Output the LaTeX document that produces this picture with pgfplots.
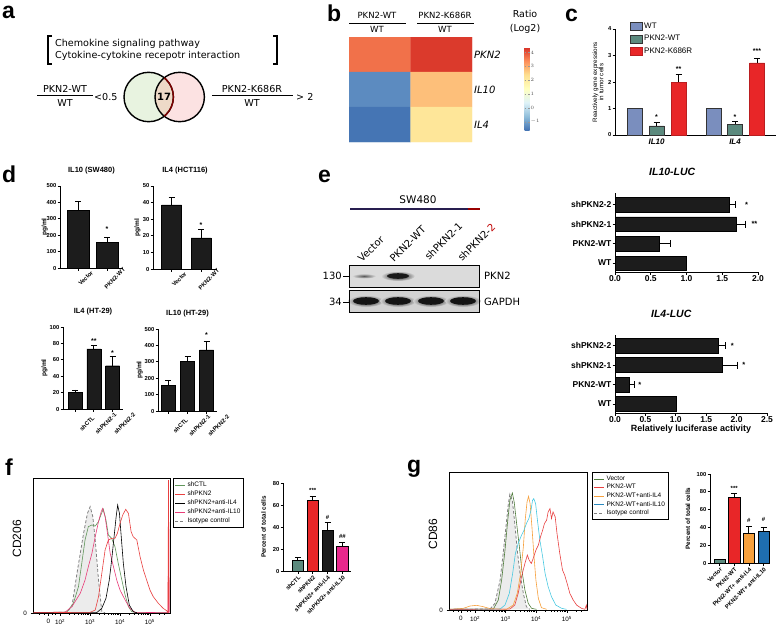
\documentclass[border=0pt]{standalone}
\usepackage{pgfplots}
\pgfplotsset{compat=1.18}
\usepackage{fontspec}
\setmainfont{Liberation Sans}
\newfontfamily\dv{DejaVu Sans}

\definecolor{cwt}{RGB}{122,142,190}
\definecolor{cteal}{RGB}{92,138,126}
\definecolor{cred}{RGB}{232,38,40}
\definecolor{bbar}{RGB}{28,28,28}
\definecolor{cpink}{RGB}{232,40,140}
\definecolor{corange}{RGB}{246,160,60}
\definecolor{cblue}{RGB}{30,110,176}
\definecolor{hgreen}{RGB}{96,150,90}
\definecolor{hred}{RGB}{232,64,64}
\definecolor{hpink}{RGB}{232,60,120}
\definecolor{hdgreen}{RGB}{80,125,60}
\definecolor{hor}{RGB}{246,160,60}
\definecolor{hcyan}{RGB}{70,200,225}
\definecolor{navy}{RGB}{40,30,80}
\definecolor{vgreen}{RGB}{232,243,224}
\definecolor{vred}{RGB}{252,226,226}
\definecolor{vmix}{RGB}{238,218,200}

\newcommand{\fs}[1]{\fontsize{#1}{#1}\selectfont}

\pgfplotsset{
  prism/.style={
    scale only axis, clip=false,
    axis x line*=bottom, axis y line*=left,
    axis line style={line width=0.8pt},
    tick align=outside, major tick length=2.5pt,
    tick style={line width=0.7pt, black},
    ticklabel style={font=\bfseries\fs{5.8}, inner sep=1pt},
    /pgf/number format/assume math mode=true,
    ymin=0,
  },
  dlab/.style={xticklabel style={rotate=45, anchor=center, yshift=#1}},
  ebary/.style={error bars/.cd, y dir=plus, y explicit,
     error bar style={line width=0.8pt, black},
     error mark options={rotate=90, line width=0.8pt, mark size=3pt, black}},
  ebarx/.style={error bars/.cd, x dir=plus, x explicit,
     error bar style={line width=0.8pt, black},
     error mark options={rotate=90, line width=0.8pt, mark size=3.5pt, black}},
  hist/.style={
    scale only axis, clip=true,
    axis line style={line width=0.9pt},
    ymin=0, ymax=100, ytick={0}, yticklabels={0},
    ytick pos=left, xtick pos=bottom,
    tick align=outside, major tick length=2.5pt, minor tick length=1.5pt,
    tick style={line width=0.5pt, black},
    ticklabel style={font=\fs{6.3}},
    xtick={1.6,2,3,4,5},
    xticklabels={0,10\textsuperscript{2},10\textsuperscript{3},10\textsuperscript{4},10\textsuperscript{5}},
    minor xtick={1.3,1.45,1.75,1.85,2.3,2.48,2.6,2.7,2.78,2.85,2.9,2.95,3.3,3.48,3.6,3.7,3.78,3.85,3.9,3.95,4.3,4.48,4.6,4.7,4.78,4.85,4.9,4.95,5.3,5.48},
    legend cell align=left,
    legend image code/.code={\draw[#1] (0pt,0pt) -- (10pt,0pt);},
  },
}

\begin{document}
\begin{tikzpicture}
\path[use as bounding box] (0,0) rectangle (778pt,-634pt);

% ---------- panel letters ----------
\foreach \l/\x/\y in {a/2/19, b/327/22, c/565/22, d/2/182, e/318/182, f/5/475, g/407/472}{
  \node[anchor=base west, inner sep=0, font=\bfseries\fs{23}] at (\x pt,-\y pt) {\l};
}

% ---------- panel a ----------
\draw[line width=1.6pt] (52pt,-36pt) -- (48pt,-36pt) -- (48pt,-64pt) -- (52pt,-64pt);
\draw[line width=1.6pt] (273pt,-36pt) -- (277pt,-36pt) -- (277pt,-64pt) -- (273pt,-64pt);
\node[anchor=base west, inner sep=0, font=\dv\fs{9.6}] at (55pt,-46pt) {Chemokine signaling pathway};
\node[anchor=base west, inner sep=0, font=\dv\fs{9.6}] at (55pt,-59pt) {Cytokine-cytokine recepotr interaction};
\fill[vgreen] (148.7pt,-97pt) circle (24.7pt);
\fill[vred] (179.7pt,-97pt) circle (24.7pt);
\begin{scope}
  \clip (148.7pt,-97pt) circle (24.7pt);
  \fill[vmix] (179.7pt,-97pt) circle (24.7pt);
\end{scope}
\draw[line width=1.4pt] (148.7pt,-97pt) circle (24.7pt);
\draw[line width=1.4pt] (179.7pt,-97pt) circle (24.7pt);
\begin{scope}
  \clip (179.7pt,-97pt) circle (24.7pt);
  \draw[line width=1.4pt, red!50!black] (148.7pt,-97pt) circle (24.7pt);
\end{scope}
\node[font=\dv\bfseries\fs{10}] at (164.2pt,-97pt) {17};
\node[anchor=base, inner sep=0, font=\dv\fs{9.6}] at (65pt,-92pt) {PKN2-WT};
\draw[line width=0.7pt] (37pt,-95pt) -- (93pt,-95pt);
\node[anchor=base, inner sep=0, font=\dv\fs{9.6}] at (65pt,-106pt) {WT};
\node[anchor=base west, inner sep=0, font=\dv\fs{9.6}] at (94pt,-100pt) {<0.5};
\node[anchor=base, inner sep=0, font=\dv\fs{9.6}] at (252pt,-92pt) {PKN2-K686R};
\draw[line width=0.7pt] (212pt,-95pt) -- (293pt,-95pt);
\node[anchor=base, inner sep=0, font=\dv\fs{9.6}] at (252pt,-106pt) {WT};
\node[anchor=base west, inner sep=0, font=\dv\fs{9.6}] at (296pt,-100pt) {> 2};

% ---------- panel b ----------
\node[anchor=base, inner sep=0, font=\dv\fs{8.5}] at (377pt,-19pt) {PKN2-WT};
\draw[line width=0.7pt] (349pt,-23pt) -- (406pt,-23pt);
\node[anchor=base, inner sep=0, font=\dv\fs{8.5}] at (377pt,-33pt) {WT};
\node[anchor=base, inner sep=0, font=\dv\fs{8.5}] at (445pt,-19pt) {PKN2-K686R};
\draw[line width=0.7pt] (417pt,-23pt) -- (474pt,-23pt);
\node[anchor=base, inner sep=0, font=\dv\fs{8.5}] at (445pt,-33pt) {WT};
\node[anchor=base, inner sep=0, font=\dv\fs{9.5}] at (525pt,-18pt) {Ratio};
\node[anchor=base, inner sep=0, font=\dv\fs{9.5}] at (525pt,-32pt) {(Log2)};

\begin{axis}[at={(349pt,-142pt)}, anchor=south west, scale only axis,
  width=123pt, height=105pt,
  xmin=-0.5, xmax=1.5, ymin=-0.5, ymax=2.5, y dir=reverse,
  axis line style={draw=none}, xtick=\empty,
  ytick={0,1,2}, yticklabels={PKN2,IL10,IL4}, yticklabel pos=right,
  major tick length=0pt,
  yticklabel style={font=\dv\itshape\fs{10}, anchor=west, inner sep=2pt},
  colormap={rdylbu}{rgb255(0)=(69,117,180); rgb255(1)=(145,191,219); rgb255(2)=(224,243,248); rgb255(3)=(255,255,191); rgb255(4)=(254,224,144); rgb255(5)=(252,141,89); rgb255(6)=(215,48,39)},
  point meta min=-1.6, point meta max=4.4,
  colorbar,
  colorbar style={at={(parent axis.north east)}, anchor=north west,
    xshift=44pt, yshift=-10pt, scale only axis, width=5pt, height=83pt,
    ytick={-1,0,1,2,3,4}, yticklabel pos=right,
    yticklabel style={font=\fs{5}, text=black!70, inner sep=1pt},
    major tick length=1.5pt, tick style={black!40},
    axis line style={draw=none}},
]
\addplot[matrix plot*, mesh/cols=2, point meta=explicit] table[meta=c] {
x y c
0 0 3.7
1 0 4.3
0 1 -1.3
1 1 2.8
0 2 -1.6
1 2 2.2
};
\end{axis}

% ---------- panel c ----------
\begin{axis}[prism, at={(615pt,-135pt)}, anchor=south west,
  width=161pt, height=106pt,
  ymax=4, ytick={0,1,2,3,4},
  xmin=-0.529, xmax=1.522, xtick={0,1},
  xticklabels={IL10,IL4},
  xticklabel style={font=\bfseries\itshape\fs{8}},
  major x tick style={draw=none},
  ylabel={Reactively gene expressions\\in tumor cells},
  ylabel style={font=\fs{6.3}, align=center, at={(axis description cs:-0.05,0.5)}, anchor=south},
  ybar, bar width=15pt,
  legend style={at={(axis description cs:0.09,1.08)}, anchor=north west, draw=none, fill=none,
     font=\fs{8}, row sep=1.5pt, inner sep=0pt},
  legend cell align=left,
  legend image code/.code={\draw[#1] (0pt,-4pt) rectangle (12pt,4pt);},
]
\addplot[fill=cwt, draw=black!80, line width=0.5pt, bar shift=-21.5pt]
  coordinates {(0,1) (1,1)};
\addplot[fill=cteal, draw=black!80, line width=0.5pt, bar shift=0pt, ebary]
  coordinates {(0,0.34) +- (0,0.12) (1,0.41) +- (0,0.09)};
\addplot[fill=cred, draw=cred!80!black, line width=0.5pt, bar shift=22pt, ebary]
  coordinates {(0,2.0) +- (0,0.3) (1,2.72) +- (0,0.18)};
\legend{WT,PKN2-WT,PKN2-K686R}
\node[font=\bfseries\fs{7}] at (axis cs:0,0.66) {*};
\node[font=\bfseries\fs{7}] at (axis cs:1,0.68) {*};
\node[font=\bfseries\fs{7}, xshift=22pt] at (axis cs:0,2.5) {**};
\node[font=\bfseries\fs{7}, xshift=22pt] at (axis cs:1,3.17) {***};
\end{axis}

% ---------- panel d ----------
\begin{axis}[prism, dlab=-11pt, at={(60pt,-268pt)}, anchor=south west, width=63pt, height=82pt,
  ymax=500, ytick={0,100,...,500}, xmin=-0.62, xmax=1.55, xtick={0,1},
  xticklabels={Vector,PKN2-WT},
  ylabel={pg/ml}, ylabel style={font=\bfseries\fs{6.5}, at={(axis description cs:-0.14,0.5)}, anchor=south},
  title={IL10 (SW480)}, title style={font=\bfseries\fs{7.5}, yshift=2pt},
  ybar, bar width=22pt]
\addplot[fill=bbar, draw=black, ebary] coordinates {(0,352) +- (0,54) (1,158) +- (0,27)};
\node[font=\bfseries\fs{7}] at (axis cs:1,236) {*};
\end{axis}

\begin{axis}[prism, dlab=-11pt, at={(153pt,-269pt)}, anchor=south west, width=64pt, height=83pt,
  ymax=50, ytick={0,10,...,50}, xmin=-0.63, xmax=1.54, xtick={0,1},
  xticklabels={Vector,PKN2-WT},
  ylabel={pg/ml}, ylabel style={font=\bfseries\fs{6.5}, at={(axis description cs:-0.14,0.5)}, anchor=south},
  title={IL4 (HCT116)}, title style={font=\bfseries\fs{7.5}, yshift=2pt},
  ybar, bar width=20pt]
\addplot[fill=bbar, draw=black, ebary] coordinates {(0,38.6) +- (0,4.4) (1,18.8) +- (0,5.2)};
\node[font=\bfseries\fs{7}] at (axis cs:1,26.5) {*};
\end{axis}

\begin{axis}[prism, dlab=-17pt, at={(63pt,-409pt)}, anchor=south west, width=60pt, height=82pt,
  ymax=100, ytick={0,20,...,100}, xmin=-0.64, xmax=2.56, xtick={0,1,2},
  xticklabels={shCTL,shPKN2-1,shPKN2-2},
  ylabel={pg/ml}, ylabel style={font=\bfseries\fs{6.5}, at={(axis description cs:-0.2,0.5)}, anchor=south},
  title={IL4 (HT-29)}, title style={font=\bfseries\fs{7.5}, yshift=2pt},
  ybar, bar width=14pt]
\addplot[fill=bbar, draw=black, ebary] coordinates {(0,20.2) +- (0,3) (1,73.4) +- (0,3.6) (2,52.8) +- (0,11)};
\node[font=\bfseries\fs{7}] at (axis cs:1,82.5) {**};
\node[font=\bfseries\fs{7}] at (axis cs:2,68) {*};
\end{axis}

\begin{axis}[prism, dlab=-17pt, at={(158pt,-411pt)}, anchor=south west, width=59pt, height=82pt,
  ymax=500, ytick={0,100,...,500}, xmin=-0.55, xmax=2.55, xtick={0,1,2},
  xticklabels={shCTL,shPKN2-1,shPKN2-2},
  ylabel={pg/ml}, ylabel style={font=\bfseries\fs{6.5}, at={(axis description cs:-0.2,0.5)}, anchor=south},
  title={IL10 (HT-29)}, title style={font=\bfseries\fs{7.5}, yshift=2pt},
  ybar, bar width=14pt]
\addplot[fill=bbar, draw=black, ebary] coordinates {(0,158) +- (0,26) (1,301) +- (0,31) (2,373) +- (0,51)};
\node[font=\bfseries\fs{7}] at (axis cs:2,462) {*};
\end{axis}

% ---------- panel e : blot ----------
\node[anchor=base, inner sep=0, font=\dv\fs{10.5}] at (418pt,-203pt) {SW480};
\draw[line width=1.2pt, navy] (350pt,-209pt) -- (468pt,-209pt);
\draw[line width=1.2pt, red!60!black] (468pt,-209pt) -- (480pt,-209pt);
\node[rotate=45, anchor=base west, inner sep=0, font=\dv\fs{10}] at (362pt,-263pt) {Vector};
\node[rotate=45, anchor=base west, inner sep=0, font=\dv\fs{10}] at (394pt,-263pt) {PKN2-WT};
\node[rotate=45, anchor=base west, inner sep=0, font=\dv\fs{10}] at (429pt,-261pt) {shPKN2-1};
\node[rotate=45, anchor=base west, inner sep=0, font=\dv\fs{10}] at (462pt,-262pt) {shPKN2-\textcolor{red!75!black}{2}};
\fill[gray!28] (349pt,-265pt) rectangle (479pt,-287pt);
\shade[inner color=black!65, outer color=gray!28] (364pt,-276pt) ellipse (12pt and 2.5pt);
\shade[inner color=black, outer color=gray!28] (398pt,-276pt) ellipse (17pt and 5pt);
\fill[black!90] (398pt,-276pt) ellipse (11pt and 2.8pt);
\draw[line width=0.8pt] (349pt,-265pt) rectangle (479pt,-287pt);
\fill[gray!35] (349pt,-290pt) rectangle (479pt,-312pt);
\foreach \bx in {366,398,431,463}{
  \shade[inner color=black, outer color=gray!35] (\bx pt,-301pt) ellipse (18pt and 6pt);
  \fill[black!92] (\bx pt,-301pt) ellipse (13pt and 3.8pt);
}
\draw[line width=0.8pt] (349pt,-290pt) rectangle (479pt,-312pt);
\node[anchor=east, inner sep=0, font=\dv\fs{10}] at (342pt,-276pt) {130};
\draw[line width=0.8pt] (343pt,-276pt) -- (349pt,-276pt);
\node[anchor=east, inner sep=0, font=\dv\fs{10}] at (342pt,-302pt) {34};
\draw[line width=0.8pt] (343pt,-302pt) -- (349pt,-302pt);
\node[anchor=west, inner sep=0, font=\dv\fs{10}] at (484pt,-276pt) {PKN2};
\node[anchor=west, inner sep=0, font=\dv\fs{10}] at (484pt,-302pt) {GAPDH};

% ---------- panel e : luciferase ----------
\begin{axis}[prism, at={(615pt,-272pt)}, anchor=south west, width=143pt, height=79pt,
  xbar, bar width=14.5pt, xmin=0, xmax=2.0, ymin=-0.46, ymax=3.59,
  xtick={0,0.5,...,2.0}, ytick={0,1,2,3},
  yticklabels={WT,PKN2-WT,shPKN2-1,shPKN2-2},
  ticklabel style={font=\bfseries\fs{8.5}},
  /pgf/number format/.cd, fixed, fixed zerofill, precision=1]
\addplot[fill=bbar, draw=black, bar shift=0pt] coordinates {(1.0,0)};
\addplot[fill=bbar, draw=black, bar shift=0pt, ebarx] coordinates {(0.62,1) +- (0.16,0) (1.70,2) +- (0.12,0) (1.595,3) +- (0.09,0)};
\node[font=\bfseries\fs{7.5}] at (axis cs:1.84,3) {*};
\node[font=\bfseries\fs{7.5}] at (axis cs:1.95,2) {**};
\node[anchor=base, font=\bfseries\itshape\fs{10.5}] at (axis description cs:0.4,1.22) {IL10-LUC};
\end{axis}

\begin{axis}[prism, at={(615pt,-413pt)}, anchor=south west, width=152pt, height=78pt,
  xbar, bar width=15pt, xmin=0, xmax=2.5, ymin=-0.46, ymax=3.54,
  xtick={0,0.5,...,2.5}, ytick={0,1,2,3},
  yticklabels={WT,PKN2-WT,shPKN2-1,shPKN2-2},
  ticklabel style={font=\bfseries\fs{8.5}},
  xlabel={Relatively luciferase activity},
  xlabel style={font=\bfseries\fs{9}, yshift=2pt},
  /pgf/number format/.cd, fixed, fixed zerofill, precision=1]
\addplot[fill=bbar, draw=black, bar shift=0pt] coordinates {(1.0,0)};
\addplot[fill=bbar, draw=black, bar shift=0pt, ebarx] coordinates {(0.24,1) +- (0.08,0) (1.76,2) +- (0.26,0) (1.70,3) +- (0.12,0)};
\node[font=\bfseries\fs{7.5}] at (axis cs:1.93,3) {*};
\node[font=\bfseries\fs{7.5}] at (axis cs:2.12,2) {*};
\node[font=\bfseries\fs{7.5}] at (axis cs:0.41,1) {*};
\node[anchor=base, font=\bfseries\itshape\fs{10.5}] at (axis description cs:0.37,1.22) {IL4-LUC};
\end{axis}

% ---------- panel f : histogram ----------
\begin{axis}[hist, at={(33pt,-613pt)}, anchor=south west, width=137pt, height=135pt,
  xmin=1.09, xmax=5.67,
  ylabel={CD206}, ylabel style={font=\fs{12}, at={(axis description cs:-0.06,0.55)}, anchor=south},
  legend style={at={(1.02,1)}, anchor=north west, draw=black, line width=1pt,
    font=\fs{6.5}, row sep=-1.2pt, inner sep=1.5pt},
]
\addplot[forget plot, draw=gray, densely dashed, line width=0.8pt, fill=gray!15] coordinates {
(1.11,0.25) (2.11,0.5) (2.22,1.0) (2.39,4.7) (2.56,29.4) (2.67,44.2) (2.78,59.0) (2.91,73.8)
(3.0,78.8) (3.09,71.4) (3.17,54.1) (3.28,24.4) (3.39,1.0) (3.5,0.2)};
\addplot[forget plot, hgreen, line width=0.6pt] coordinates {
(1.11,0.25) (2.22,0.7) (2.44,7.2) (2.61,19.5) (2.72,36.8) (2.83,54.1) (2.94,64.0) (3.06,65.2)
(3.17,64.4) (3.28,67.7) (3.36,72.6) (3.44,77.0) (3.53,68.9) (3.61,57.8) (3.72,55.3) (3.83,49.1)
(3.94,36.8) (4.06,24.4) (4.17,13.3) (4.28,4.7) (4.39,1.0) (4.56,0.25) (5.61,0.25)};
\addplot[forget plot, hpink, line width=0.6pt] coordinates {
(1.11,0.25) (2.17,0.7) (2.39,4.7) (2.67,14.6) (2.83,24.4) (2.94,34.3) (3.06,44.2) (3.17,56.5)
(3.28,67.7) (3.37,75.1) (3.42,77.5) (3.5,71.4) (3.58,59.0) (3.67,44.2) (3.78,34.3) (3.89,24.4)
(4.0,17.0) (4.17,9.6) (4.33,3.5) (4.5,0.5) (5.56,0.25) (5.61,0.25) (5.62,91) (5.64,0.25)};
\addplot[forget plot, black, line width=0.6pt] coordinates {
(1.11,0.25) (3.22,0.25) (3.39,3.5) (3.53,10.9) (3.64,24.4) (3.72,39.3) (3.8,56.5) (3.87,71.4)
(3.92,80.0) (3.98,73.8) (4.04,56.5) (4.11,36.8) (4.2,19.5) (4.31,5.9) (4.44,1.0) (4.56,0.25)};
\addplot[forget plot, hred, line width=0.6pt] coordinates {
(1.11,0.25) (3.0,0.5) (3.17,2.2) (3.28,12.1) (3.39,29.4) (3.5,46.7) (3.61,54.1) (3.72,55.3)
(3.83,55.3) (3.91,59.0) (4.0,66.4) (4.09,72.6) (4.19,76.8) (4.28,73.8) (4.37,60.2) (4.44,56.5)
(4.56,54.1) (4.67,41.7) (4.78,31.9) (4.89,24.4) (5.0,17.0) (5.11,12.1) (5.28,7.2) (5.44,3.5)
(5.56,1.7) (5.6,0.25) (5.62,98.5) (5.64,0.25)};
\addlegendimage{hgreen, line width=0.8pt}
\addlegendentry{shCTL}
\addlegendimage{hred, line width=0.8pt}
\addlegendentry{shPKN2}
\addlegendimage{black, line width=0.8pt}
\addlegendentry{shPKN2+anti-IL4}
\addlegendimage{hpink, line width=0.8pt}
\addlegendentry{shPKN2+anti-IL10}
\addlegendimage{gray, densely dashed, line width=0.8pt}
\addlegendentry{Isotype control}
\end{axis}

% ---------- panel f : bars ----------
\begin{axis}[prism, at={(283pt,-571pt)}, anchor=south west, width=68pt, height=88pt,
  ymax=80, ytick={0,20,...,80}, xmin=-1.0, xmax=3.58, xtick={0,1,2,3},
  xticklabels={shCTL,shPKN2,shPKN2+ anti-IL4,shPKN2+ anti-IL10},
  xticklabel style={rotate=45, anchor=north east},
  ylabel={Percent of total cells}, ylabel style={font=\bfseries\fs{6.3}, at={(axis description cs:-0.2,0.5)}, anchor=south},
  ybar, bar width=11.5pt]
\addplot[fill=cteal, draw=black, line width=0.5pt, bar shift=0pt, ebary] coordinates {(0,10) +- (0,2)};
\addplot[fill=cred, draw=black, line width=0.5pt, bar shift=0pt, ebary] coordinates {(1,64) +- (0,4)};
\addplot[fill=bbar, draw=black, line width=0.5pt, bar shift=0pt, ebary] coordinates {(2,37.4) +- (0,6.7)};
\addplot[fill=cpink, draw=black, line width=0.5pt, bar shift=0pt, ebary] coordinates {(3,22.2) +- (0,4)};
\node[font=\bfseries\fs{6}] at (axis cs:1,73) {***};
\node[font=\bfseries\fs{6}] at (axis cs:2,49) {\#};
\node[font=\bfseries\fs{6}] at (axis cs:3,31) {\#\#};
\end{axis}

% ---------- panel g : histogram ----------
\begin{axis}[hist, at={(449pt,-610pt)}, anchor=south west, width=138pt, height=138pt,
  xmin=1.15, xmax=5.66,
  xtick={1.54,2,3,4,5},
  ylabel={CD86}, ylabel style={font=\fs{12}, at={(axis description cs:-0.06,0.55)}, anchor=south},
  legend style={at={(1.035,1)}, anchor=north west, draw=black, line width=1pt,
    font=\fs{6.5}, row sep=-1.6pt, inner sep=1.5pt},
]
\addplot[forget plot, draw=gray, densely dashed, line width=0.8pt, fill=gray!15] coordinates {
(1.18,0.5) (2.49,0.7) (2.65,4.8) (2.82,21.7) (2.92,41.0) (3.01,60.2) (3.09,77.1) (3.14,83.9)
(3.22,79.5) (3.30,62.7) (3.38,43.4) (3.47,26.5) (3.58,12.0) (3.68,2.4) (3.79,0.5)};
\addplot[forget plot, hdgreen, line width=0.6pt] coordinates {
(1.18,0.5) (2.6,0.7) (2.76,7.2) (2.87,21.7) (2.98,43.4) (3.07,65.1) (3.14,79.5) (3.22,84.8)
(3.28,78.3) (3.36,62.7) (3.45,45.8) (3.53,28.9) (3.63,14.5) (3.74,4.8) (3.85,1.2) (4.01,0.5)};
\addplot[forget plot, hor, line width=0.6pt] coordinates {
(1.18,0.5) (1.62,1.2) (1.84,2.9) (2.05,3.4) (2.27,2.4) (2.49,1.0) (3.03,0.5) (3.25,3.6)
(3.38,12.0) (3.49,26.5) (3.58,45.8) (3.64,65.1) (3.70,78.3) (3.75,82.4) (3.8,77.1) (3.86,60.2)
(3.92,41.0) (3.99,21.7) (4.07,8.4) (4.17,1.7) (4.34,0.5)};
\addplot[forget plot, hcyan, line width=0.6pt] coordinates {
(1.18,0.5) (2.82,0.7) (2.98,3.6) (3.12,12.0) (3.23,26.5) (3.32,41.0) (3.41,48.2) (3.52,54.2)
(3.60,57.8) (3.68,62.7) (3.76,66.3) (3.83,72.3) (3.88,79.5) (3.92,80.7) (3.98,77.1) (4.04,65.1)
(4.12,50.6) (4.21,38.6) (4.29,26.5) (4.39,16.9) (4.5,9.6) (4.64,3.6) (4.83,1.2) (4.99,0.5)};
\addplot[forget plot, hred, line width=0.6pt] coordinates {
(1.18,0.5) (3.14,0.7) (3.30,3.6) (3.41,12.0) (3.52,24.1) (3.63,33.7) (3.71,39.8) (3.77,36.1)
(3.84,33.7) (3.90,37.3) (3.99,43.4) (4.07,47.0) (4.14,53.0) (4.21,57.8) (4.27,62.7) (4.34,65.1)
(4.39,71.1) (4.45,73.5) (4.50,66.3) (4.55,71.1) (4.62,67.5) (4.68,55.4) (4.77,41.0) (4.86,28.9)
(4.93,25.3) (5.01,19.3) (5.10,12.0) (5.21,7.2) (5.32,3.6) (5.48,1.2) (5.59,0.5) (5.64,3.6) (5.66,0.5)};
\addlegendimage{hdgreen, line width=0.8pt}
\addlegendentry{Vector}
\addlegendimage{hred, line width=0.8pt}
\addlegendentry{PKN2-WT}
\addlegendimage{hor, line width=0.8pt}
\addlegendentry{PKN2-WT+anti-IL4}
\addlegendimage{cblue!70!hcyan, line width=0.8pt}
\addlegendentry{PKN2-WT+anti-IL10}
\addlegendimage{gray, densely dashed, line width=0.8pt}
\addlegendentry{Isotype control}
\end{axis}

% ---------- panel g : bars ----------
\begin{axis}[prism, at={(710pt,-563pt)}, anchor=south west, width=60pt, height=89pt,
  ymax=100, ytick={0,20,...,100}, xmin=-0.65, xmax=3.44, xtick={0,1,2,3},
  xticklabels={Vector,PKN2-WT,PKN2-WT+ anti-IL4,PKN2-WT+ anti-IL10},
  xticklabel style={rotate=45, anchor=north east},
  ylabel={Percent of total cells}, ylabel style={font=\bfseries\fs{6.3}, at={(axis description cs:-0.27,0.5)}, anchor=south},
  ybar, bar width=11.5pt]
\addplot[fill=cteal, draw=black, line width=0.5pt, bar shift=0pt, ebary] coordinates {(0,3.8) +- (0,0.6)};
\addplot[fill=cred, draw=black, line width=0.5pt, bar shift=0pt, ebary] coordinates {(1,73.6) +- (0,5)};
\addplot[fill=corange, draw=black, line width=0.5pt, bar shift=0pt, ebary] coordinates {(2,33.2) +- (0,7.5)};
\addplot[fill=cblue, draw=black, line width=0.5pt, bar shift=0pt, ebary] coordinates {(3,35.8) +- (0,4.2)};
\node[font=\bfseries\fs{6}] at (axis cs:1,84) {***};
\node[font=\bfseries\fs{6}] at (axis cs:2,48) {\#};
\node[font=\bfseries\fs{6}] at (axis cs:3,49) {\#};
\end{axis}

\end{tikzpicture}
\end{document}
